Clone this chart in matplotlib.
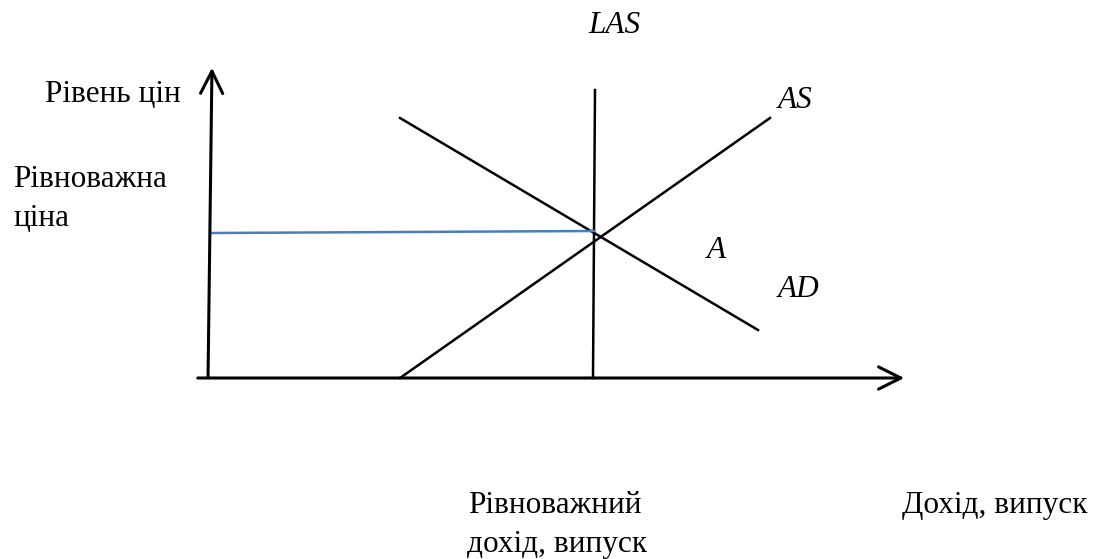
import matplotlib.pyplot as plt

# diagram geometry in picture units (x right, y down)
as_x = [400, 770]
as_y = [378, 118]
ad_x = [400, 758]
ad_y = [118, 330]
las_x = [593, 595]
las_y = [378, 90]
eq_price_x = [212, 594]
eq_price_y = [233, 231]

# labels: (text, x, baseline y, italic)
labels = [
    ('LAS', 588, 33, True),
    ('AS', 778, 108, True),
    ('A', 707, 258, True),
    ('AD', 778, 297, True),
    ('Рівень цін', 45, 102, False),
    ('Рівноважна', 13, 187, False),
    ('ціна', 13, 226, False),
    ('Рівноважний', 468, 513, False),
    ('дохід, випуск', 467, 552, False),
    ('Дохід, випуск', 902, 513, False),
]

fig = plt.figure(figsize=(10.95, 5.59), dpi=100)
ax = fig.add_axes([0, 0, 1, 1])
ax.set_xlim(0, 1095)
ax.set_ylim(559, 0)
ax.axis('off')

# axes with open arrow heads
ax.annotate('', xy=(907, 378), xytext=(195, 378),
            arrowprops=dict(arrowstyle='->', lw=2.2, color='black', mutation_scale=40))
ax.annotate('', xy=(212, 65), xytext=(208, 380),
            arrowprops=dict(arrowstyle='->', lw=2.2, color='black', mutation_scale=40))

ax.plot(as_x, as_y, color='black', lw=1.8)
ax.plot(ad_x, ad_y, color='black', lw=1.8)
ax.plot(las_x, las_y, color='black', lw=1.8)
ax.plot(eq_price_x, eq_price_y, color='#4a7ebb', lw=1.8)

for txt, x, y, it in labels:
    ax.text(x, y, txt, fontsize=22.5, family='Liberation Serif',
            style='italic' if it else 'normal', ha='left', va='baseline')

fig.savefig('out.png', dpi=100)
